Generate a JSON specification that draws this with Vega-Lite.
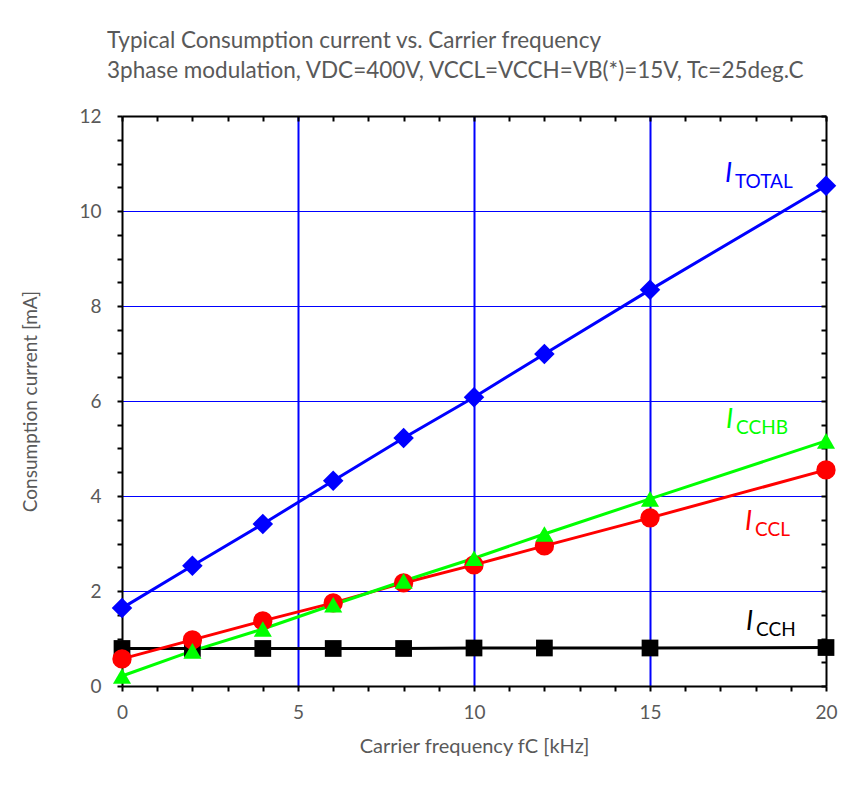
{
  "$schema": "https://vega.github.io/schema/vega-lite/v6.json",
  "autosize": "none",
  "width": 704,
  "height": 570,
  "padding": {"left": 122, "top": 116, "right": 27, "bottom": 101},
  "background": "white",
  "config": {
    "font": "Lato",
    "view": {"stroke": null},
    "axis": {"labelFont": "Lato", "titleFont": "Lato", "labelColor": "#595959", "titleColor": "#595959", "labelFontSize": 19, "titleFontSize": 19, "titleFontWeight": "normal", "tickColor": "#000000", "tickWidth": 2, "domainColor": "#000000", "domainWidth": 2, "labelFlush": false}
  },
  "title": {
    "text": ["Typical Consumption current vs. Carrier frequency", "3phase modulation, VDC=400V, VCCL=VCCH=VB(*)=15V, Tc=25deg.C"],
    "anchor": "start",
    "frame": "group",
    "dx": -15,
    "offset": 25,
    "fontSize": 22.5,
    "lineHeight": 30,
    "color": "#595959",
    "font": "Lato",
    "fontWeight": "normal"
  },
  "datasets": {
    "series": [
      {"f": 0, "i": 1.64, "s": "TOTAL"}, {"f": 2, "i": 2.53, "s": "TOTAL"}, {"f": 4, "i": 3.41, "s": "TOTAL"}, {"f": 6, "i": 4.32, "s": "TOTAL"}, {"f": 8, "i": 5.22, "s": "TOTAL"}, {"f": 10, "i": 6.08, "s": "TOTAL"}, {"f": 12, "i": 6.99, "s": "TOTAL"}, {"f": 15, "i": 8.34, "s": "TOTAL"}, {"f": 20, "i": 10.53, "s": "TOTAL"},
      {"f": 0, "i": 0.79, "s": "CCH"}, {"f": 2, "i": 0.79, "s": "CCH"}, {"f": 4, "i": 0.79, "s": "CCH"}, {"f": 6, "i": 0.79, "s": "CCH"}, {"f": 8, "i": 0.79, "s": "CCH"}, {"f": 10, "i": 0.8, "s": "CCH"}, {"f": 12, "i": 0.8, "s": "CCH"}, {"f": 15, "i": 0.8, "s": "CCH"}, {"f": 20, "i": 0.81, "s": "CCH"},
      {"f": 0, "i": 0.57, "s": "CCL"}, {"f": 2, "i": 0.97, "s": "CCL"}, {"f": 4, "i": 1.37, "s": "CCL"}, {"f": 6, "i": 1.75, "s": "CCL"}, {"f": 8, "i": 2.17, "s": "CCL"}, {"f": 10, "i": 2.55, "s": "CCL"}, {"f": 12, "i": 2.95, "s": "CCL"}, {"f": 15, "i": 3.54, "s": "CCL"}, {"f": 20, "i": 4.55, "s": "CCL"},
      {"f": 0, "i": 0.21, "s": "CCHB"}, {"f": 2, "i": 0.74, "s": "CCHB"}, {"f": 4, "i": 1.2, "s": "CCHB"}, {"f": 6, "i": 1.71, "s": "CCHB"}, {"f": 8, "i": 2.21, "s": "CCHB"}, {"f": 10, "i": 2.69, "s": "CCHB"}, {"f": 12, "i": 3.2, "s": "CCHB"}, {"f": 15, "i": 3.94, "s": "CCHB"}, {"f": 20, "i": 5.16, "s": "CCHB"}
    ],
    "labels": [
      {"f": 17.13, "i": 10.61, "main": "I", "sub": "TOTAL", "s": "TOTAL"},
      {"f": 17.16, "i": 5.43, "main": "I", "sub": "CCHB", "s": "CCHB"},
      {"f": 17.7, "i": 3.28, "main": "I", "sub": "CCL", "s": "CCL"},
      {"f": 17.73, "i": 1.18, "main": "I", "sub": "CCH", "s": "CCH"}
    ]
  },
  "layer": [
    {
      "data": {"name": "series"},
      "mark": {"type": "line", "strokeWidth": 3},
      "encoding": {
        "x": {"field": "f", "type": "quantitative", "scale": {"domain": [0, 20], "nice": false},
              "axis": {"orient": "bottom", "values": [5, 10, 15], "grid": true, "gridColor": "#0000FF", "gridWidth": 2, "gridOpacity": 1, "domain": false, "ticks": false, "labels": false, "title": null}},
        "y": {"field": "i", "type": "quantitative", "scale": {"domain": [0, 12], "nice": false},
              "axis": {"orient": "left", "values": [2, 4, 6, 8, 10], "grid": true, "gridColor": "#0000FF", "gridWidth": 1, "gridOpacity": 1, "domain": false, "ticks": false, "labels": false, "title": null}},
        "color": {"field": "s", "type": "nominal", "scale": {"domain": ["TOTAL", "CCL", "CCHB", "CCH"], "range": ["#0000FF", "#FF0000", "#00FF00", "#000000"]}, "legend": null},
        "order": {"field": "f", "type": "quantitative"}
      }
    },
    {
      "data": {"name": "series"},
      "mark": {"type": "point", "filled": true, "opacity": 1},
      "encoding": {
        "x": {"field": "f", "type": "quantitative",
              "axis": {"orient": "bottom", "values": [0,1,2,3,4,5,6,7,8,9,10,11,12,13,14,15,16,17,18,19,20], "labelExpr": "datum.value % 5 === 0 ? format(datum.value, 'd') : ''", "grid": false, "tickSize": 5, "labelPadding": 12, "labelFontSize": 19, "title": "Carrier frequency fC [kHz]", "titlePadding": 14, "titleFontSize": 20}},
        "y": {"field": "i", "type": "quantitative",
              "axis": {"orient": "left", "values": [0,0.5,1,1.5,2,2.5,3,3.5,4,4.5,5,5.5,6,6.5,7,7.5,8,8.5,9,9.5,10,10.5,11,11.5,12], "labelExpr": "datum.value % 2 === 0 ? format(datum.value, 'd') : ''", "grid": false, "tickSize": 5, "labelPadding": 16, "labelFontSize": 19, "title": "Consumption current [mA]", "titlePadding": 38, "titleFontSize": 19}},
        "color": {"field": "s", "type": "nominal", "legend": null},
        "shape": {"field": "s", "type": "nominal", "scale": {"domain": ["TOTAL", "CCL", "CCHB", "CCH"], "range": ["diamond", "circle", "triangle-up", "square"]}, "legend": null},
        "size": {"field": "s", "type": "nominal", "scale": {"domain": ["TOTAL", "CCL", "CCHB", "CCH"], "range": [420, 280, 380, 270]}, "legend": null}
      }
    },
    {
      "data": {"name": "labels"},
      "mark": {"type": "text", "align": "left", "baseline": "alphabetic", "fontSize": 27, "fontStyle": "italic", "font": "Lato"},
      "encoding": {
        "x": {"field": "f", "type": "quantitative",
              "axis": {"orient": "top", "values": [0,1,2,3,4,5,6,7,8,9,10,11,12,13,14,15,16,17,18,19,20], "labels": false, "grid": false, "tickSize": -5, "title": null}},
        "y": {"field": "i", "type": "quantitative",
              "axis": {"orient": "right", "values": [0,0.5,1,1.5,2,2.5,3,3.5,4,4.5,5,5.5,6,6.5,7,7.5,8,8.5,9,9.5,10,10.5,11,11.5,12], "labels": false, "grid": false, "tickSize": -5, "title": null}},
        "text": {"field": "main"},
        "color": {"field": "s", "type": "nominal", "legend": null}
      }
    },
    {
      "data": {"name": "labels"},
      "mark": {"type": "text", "align": "left", "baseline": "alphabetic", "fontSize": 19, "dx": 10, "dy": 6, "font": "Lato"},
      "encoding": {
        "x": {"field": "f", "type": "quantitative", "axis": null},
        "y": {"field": "i", "type": "quantitative", "axis": null},
        "text": {"field": "sub"},
        "color": {"field": "s", "type": "nominal", "legend": null}
      }
    }
  ],
  "resolve": {"axis": {"x": "independent", "y": "independent"}}
}
